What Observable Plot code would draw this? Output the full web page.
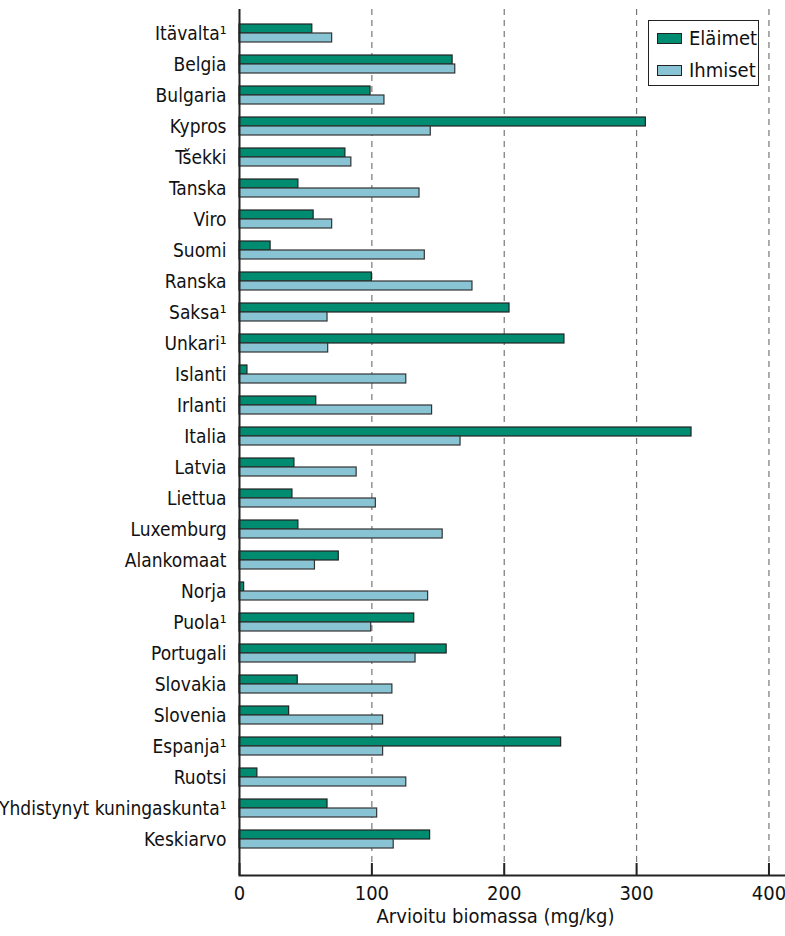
<!DOCTYPE html>
<html>
<head>
<meta charset="utf-8">
<script src="https://cdn.jsdelivr.net/npm/d3@7"></script>
<script src="https://cdn.jsdelivr.net/npm/@observablehq/plot@0.6"></script>
<style>
  html, body { margin: 0; padding: 0; background: #fff; }
  #wrap { position: relative; width: 785px; height: 936px; font-family: "DejaVu Sans", sans-serif; font-stretch: condensed; }
  #wrap svg { font-stretch: condensed; }
  .legend { position: absolute; left: 648px; top: 20px; width: 111px; height: 66px; box-sizing: border-box; border: 1.5px solid #222; background: #fff; }
  .legend .row { position: absolute; left: 8px; height: 22px; display: flex; align-items: center; font-size: 20px; color: #111; font-stretch: condensed; }
  .legend .sw { width: 25px; height: 11px; box-sizing: border-box; border: 1.2px solid #222; margin-right: 7px; }
</style>
</head>
<body>
<div id="wrap"></div>
<script>
const countries = ["Itävalta¹", "Belgia", "Bulgaria", "Kypros", "Tšekki", "Tanska", "Viro", "Suomi", "Ranska", "Saksa¹", "Unkari¹", "Islanti", "Irlanti", "Italia", "Latvia", "Liettua", "Luxemburg", "Alankomaat", "Norja", "Puola¹", "Portugali", "Slovakia", "Slovenia", "Espanja¹", "Ruotsi", "Yhdistynyt kuningaskunta¹", "Keskiarvo"];
const animals = [55, 161, 99, 307, 80, 44.5, 56, 23.5, 100, 204, 245.5, 6, 58, 341.5, 41.5, 40, 44.5, 75, 3.5, 132, 156.5, 44, 37.5, 243, 13.5, 66.5, 144];
const humans = [70, 163, 109.5, 144.5, 84.5, 136, 70, 140, 176, 66.5, 67, 126, 145.5, 167, 88.5, 103, 153.5, 57, 142.5, 99.5, 133, 115.5, 108.5, 108.5, 126, 104, 116.5];
const seriesNames = ["Eläimet", "Ihmiset"];
const seriesColors = ["#008c70", "#89c4d4"];
const xTicks = [0, 100, 200, 300, 400];
const gridTicks = [100, 200, 300, 400];
const xLabel = "Arvioitu biomassa (mg/kg)";

const animalRows = countries.map((c, i) => ({country: c, value: animals[i]}));
const humanRows = countries.map((c, i) => ({country: c, value: humans[i]}));

const chart = Plot.plot({
  width: 785,
  height: 936,
  marginLeft: 239,
  marginRight: 0,
  marginTop: 9,
  marginBottom: 61,
  style: {fontFamily: "'DejaVu Sans', sans-serif", fontStretch: "condensed", fontSize: "20px", color: "#111", background: "#fff"},
  x: {domain: [0, 412.5]},
  y: {domain: countries, range: [0, 871], padding: 0.433},
  marks: [
    Plot.ruleX(gridTicks, {stroke: "#777", strokeWidth: 1.2, strokeDasharray: "6,5"}),
    Plot.barX(animalRows, {x: "value", y: "country", fill: seriesColors[0], stroke: "#222", strokeWidth: 1.2, insetBottom: 9}),
    Plot.barX(humanRows, {x: "value", y: "country", fill: seriesColors[1], stroke: "#333", strokeWidth: 1.2, insetTop: 9}),
    Plot.ruleX([0], {stroke: "#222", strokeWidth: 2}),
    Plot.frame({anchor: "bottom", stroke: "#222", strokeWidth: 2}),
    Plot.axisX({ticks: xTicks, tickSize: -12, strokeWidth: 2, stroke: "#222", text: null, label: null}),
    Plot.axisX({ticks: xTicks, tickSize: 0, tickPadding: 10, fontSize: 20, label: null}),
    Plot.axisY({tickSize: 0, tickPadding: 13, fontSize: 19, label: null}),
    Plot.text([xLabel], {frameAnchor: "bottom", dy: 47, dx: -17, fontSize: 20, fill: "#111"})
  ]
});
const wrap = document.getElementById("wrap");
wrap.appendChild(chart);

const legend = document.createElement("div");
legend.className = "legend";
seriesNames.forEach((name, i) => {
  const row = document.createElement("div");
  row.className = "row";
  row.style.top = (6 + i * 32) + "px";
  const sw = document.createElement("div");
  sw.className = "sw";
  sw.style.background = seriesColors[i];
  const t = document.createElement("span");
  t.textContent = name;
  row.appendChild(sw);
  row.appendChild(t);
  legend.appendChild(row);
});
wrap.appendChild(legend);
</script>
</body>
</html>
